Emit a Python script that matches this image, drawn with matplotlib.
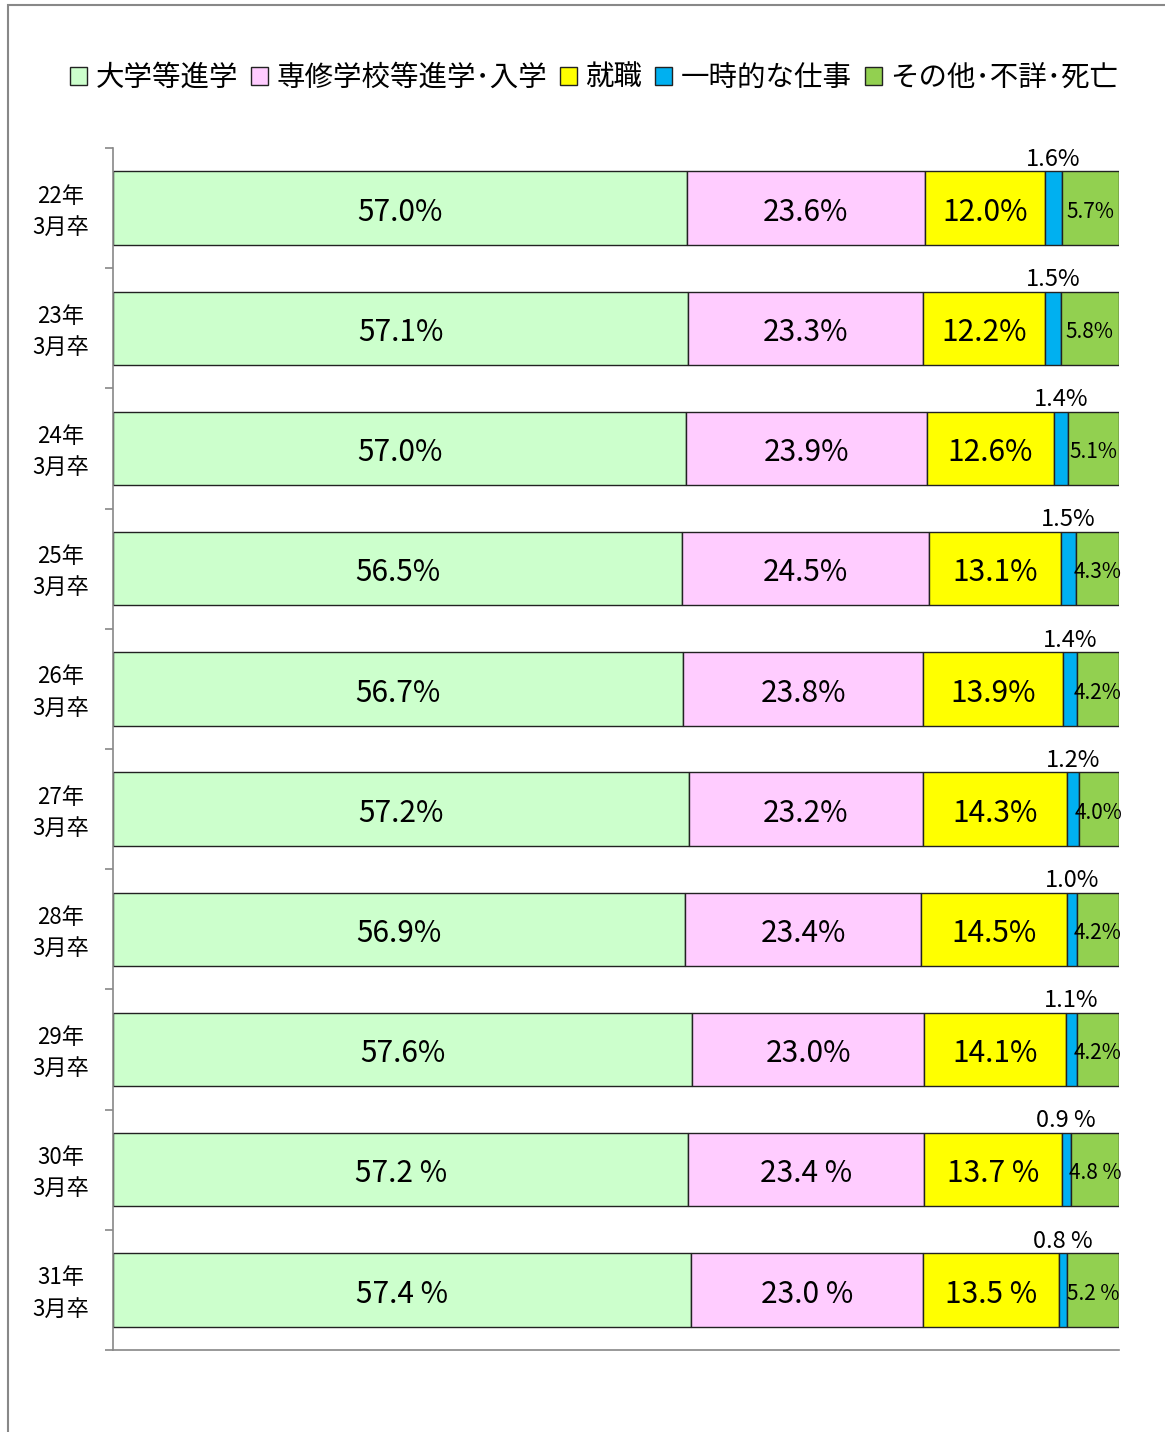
import matplotlib
matplotlib.use("Agg")
import matplotlib.pyplot as plt
from matplotlib.patches import Rectangle, Patch
import numpy as np

plt.rcParams['font.family'] = ['Noto Sans CJK JP', 'DejaVu Sans']

years = ["22年\n3月卒", "23年\n3月卒", "24年\n3月卒", "25年\n3月卒", "26年\n3月卒",
         "27年\n3月卒", "28年\n3月卒", "29年\n3月卒", "30年\n3月卒", "31年\n3月卒"]
series_names = ["大学等進学", "専修学校等進学･入学", "就職", "一時的な仕事", "その他･不詳･死亡"]
univ = [57.0, 57.1, 57.0, 56.5, 56.7, 57.2, 56.9, 57.6, 57.2, 57.4]
senmon = [23.6, 23.3, 23.9, 24.5, 23.8, 23.2, 23.4, 23.0, 23.4, 23.0]
shushoku = [12.0, 12.2, 12.6, 13.1, 13.9, 14.3, 14.5, 14.1, 13.7, 13.5]
ichiji = [1.6, 1.5, 1.4, 1.5, 1.4, 1.2, 1.0, 1.1, 0.9, 0.8]
other = [5.7, 5.8, 5.1, 4.3, 4.2, 4.0, 4.2, 4.2, 4.8, 5.2]
pct_suffix = ["%"] * 8 + [" %"] * 2

colors = ["#CCFFCC", "#FFCCFF", "#FFFF00", "#00B0F0", "#92D050"]

data = np.array([univ, senmon, shushoku, ichiji, other])
share = data / data.sum(axis=0) * 100  # 100% stacked

fig = plt.figure(figsize=(11.65, 14.32), dpi=100)
ax = fig.add_axes([113 / 1165, 1 - 1350 / 1432, 1006 / 1165, 1202 / 1432])

y = np.arange(len(years))
left = np.zeros(len(years))
for i in range(5):
    ax.barh(y, share[i], left=left, height=0.61, color=colors[i],
            edgecolor="#222222", linewidth=1.0)
    for j in range(len(years)):
        cx = left[j] + share[i][j] / 2
        txt = f"{data[i][j]:.1f}{pct_suffix[j]}"
        if i < 3:
            ax.text(cx, y[j] + 0.035, txt, ha="center", va="center", fontsize=21.5)
        elif i == 3:
            ax.text(cx, y[j] - 0.31, txt, ha="center", va="bottom", fontsize=17)
        else:
            ax.text(cx, y[j] + 0.03, txt, ha="center", va="center", fontsize=15)
    left += share[i]

ax.set_xlim(0, 100)
ax.set_ylim(len(years) - 0.5, -0.5)
ax.set_yticks(np.arange(len(years) + 1) - 0.5)
ax.set_yticklabels([])
ax.tick_params(axis="y", length=6, color="#888888", width=1.2)
ax.set_xticks([])
for s in ["top", "right"]:
    ax.spines[s].set_visible(False)
ax.spines["left"].set_color("#888888")
ax.spines["bottom"].set_color("#888888")
ax.spines["left"].set_linewidth(1.2)
ax.spines["bottom"].set_linewidth(1.2)

for j, lab in enumerate(years):
    fig.text(61 / 1165, ax.transData.transform((0, y[j] + 0.03))[1] / fig.bbox.height,
             lab, ha="center", va="center", fontsize=16, linespacing=1.45,
             transform=fig.transFigure)

handles = [Patch(facecolor=c, edgecolor="#222222", linewidth=1.0) for c in colors]
fig.legend(handles, series_names, loc="center", bbox_to_anchor=(594 / 1165, 1 - 78 / 1432),
           ncol=5, frameon=False, fontsize=20.5, handlelength=0.6, handleheight=0.6,
           handletextpad=0.3, columnspacing=0.45)

fig.patches.append(Rectangle((7.5 / 1165, -0.1), 1.2, 1 - 5 / 1432 + 0.1,
                             transform=fig.transFigure, fill=False,
                             edgecolor="#888888", linewidth=1.5))

fig.savefig("out.png", dpi=100)
